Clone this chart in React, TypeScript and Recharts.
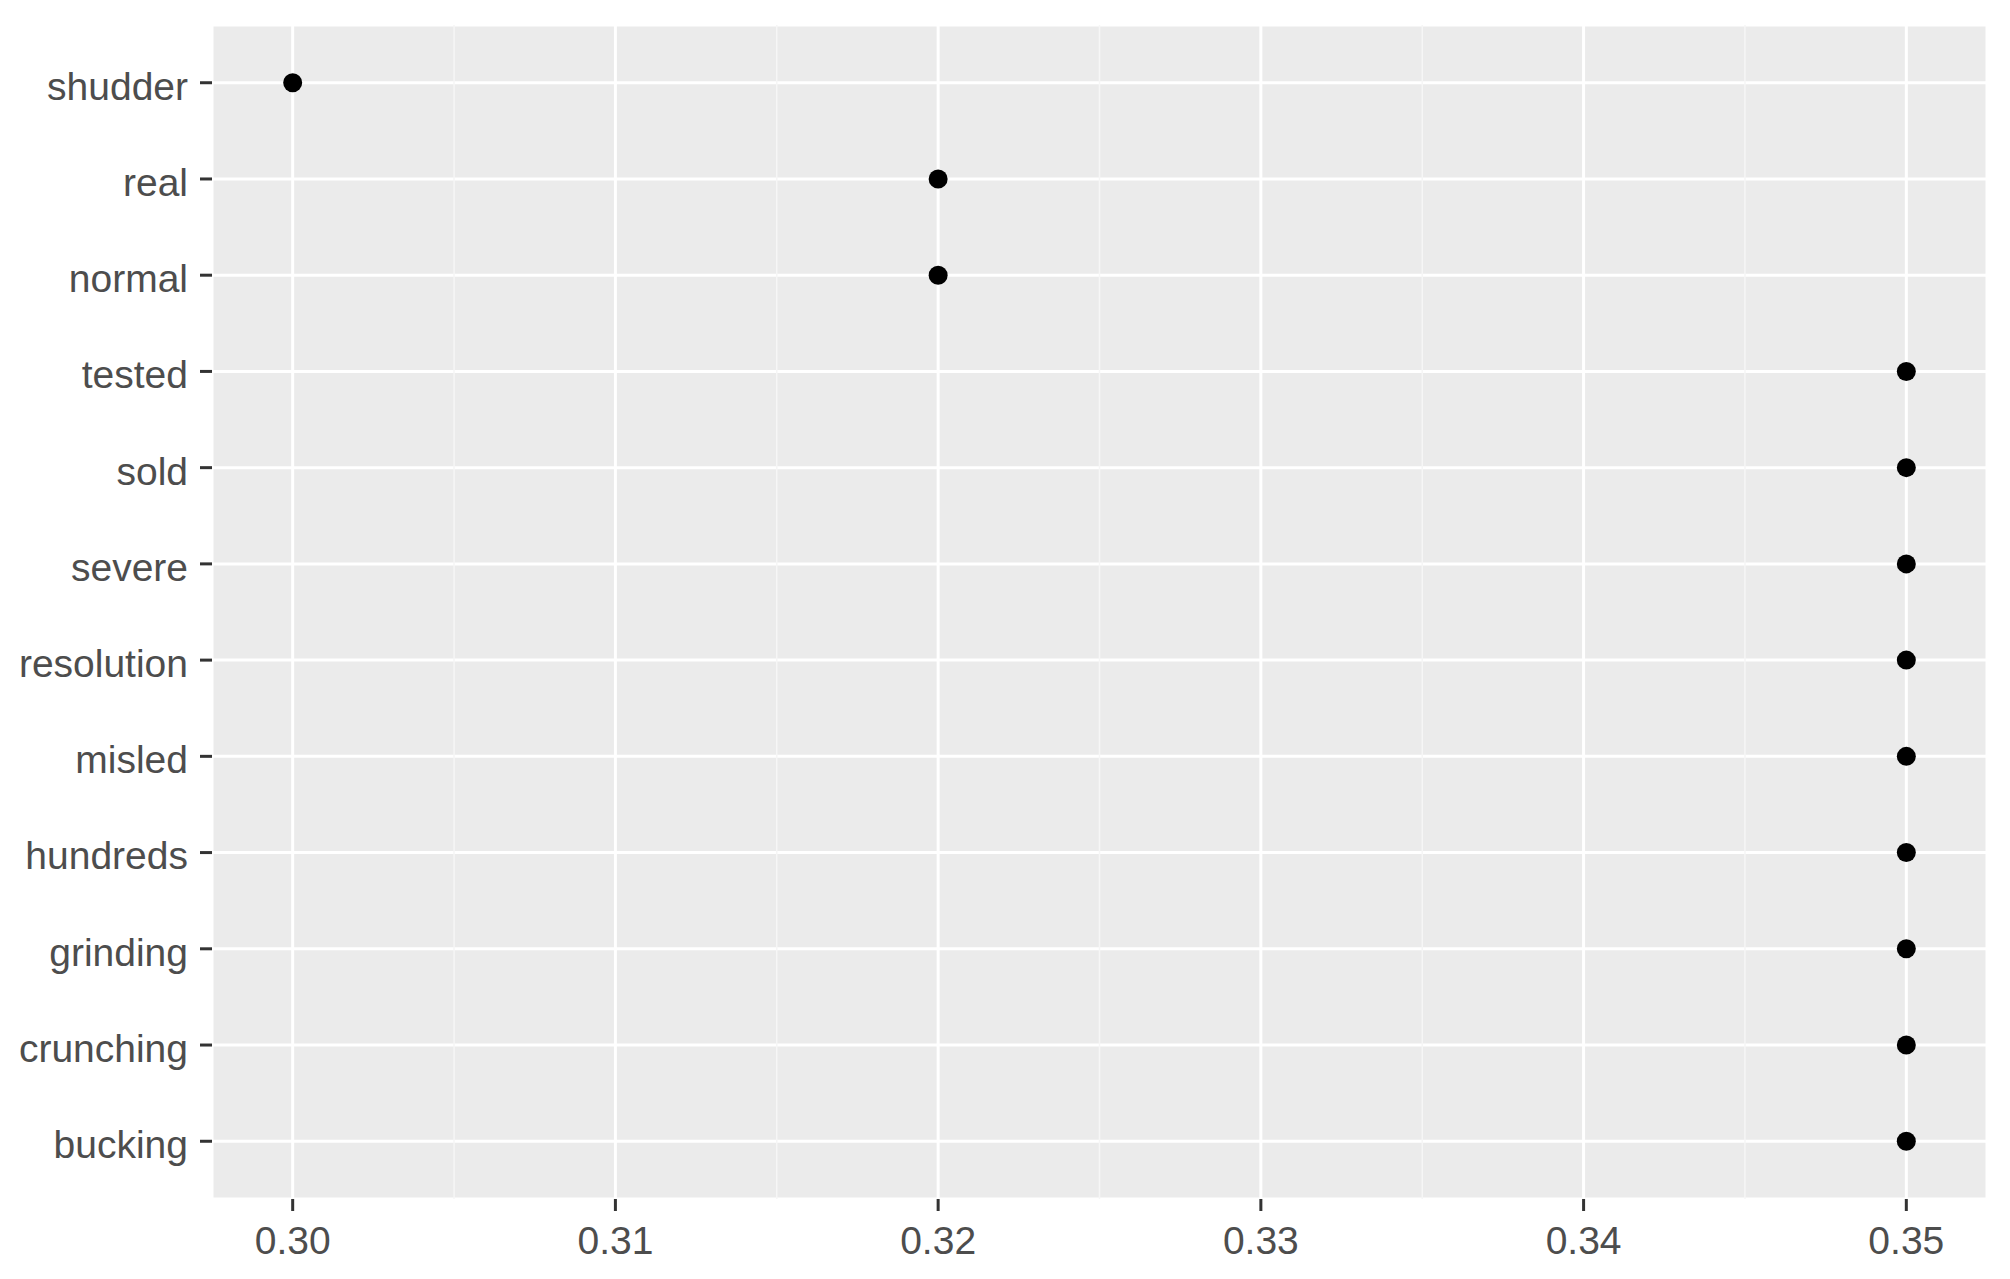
import React from "react";
import {
    ScatterChart,
    Scatter,
    XAxis,
    YAxis,
    CartesianGrid,
    ReferenceLine
} from "recharts";

// words from top to bottom, as in the plot
const words = [
    "shudder",
    "real",
    "normal",
    "tested",
    "sold",
    "severe",
    "resolution",
    "misled",
    "hundreds",
    "grinding",
    "crunching",
    "bucking"
];
const scores = [0.3, 0.32, 0.32, 0.35, 0.35, 0.35, 0.35, 0.35, 0.35, 0.35, 0.35, 0.35];

const xTicks = [0.3, 0.31, 0.32, 0.33, 0.34, 0.35];
const xMinorTicks = [0.305, 0.315, 0.325, 0.335, 0.345];

const data = words.map((word, i) => ({ word, rank: i, score: scores[i] }));
const yTicks = words.map((_, i) => i);

const labelStyle = {
    fill: "#4D4D4D",
    fontSize: 39,
    fontFamily: "'Liberation Sans', Arial, sans-serif"
};

export default function App() {
    return (
        <div style={{ position: "absolute", left: 0, top: 0, width: 2010, height: 1279, background: "#fff" }}>
            <ScatterChart width={2010} height={1279} margin={{ top: 25, right: 23, left: 0, bottom: 0 }}>
                <CartesianGrid fill="#EBEBEB" stroke="#FFFFFF" strokeWidth={3} />
                {xMinorTicks.map((t) => (
                    <ReferenceLine key={t} x={t} stroke="#F6F6F6" strokeWidth={1.5} />
                ))}
                <XAxis
                    type="number"
                    dataKey="score"
                    domain={[0.2975, 0.3525]}
                    ticks={xTicks}
                    allowDataOverflow
                    tickFormatter={(v: number) => v.toFixed(2)}
                    axisLine={false}
                    tickLine={{ stroke: "#333333", strokeWidth: 3 }}
                    tickSize={12}
                    tickMargin={15}
                    tick={labelStyle}
                    height={80}
                    interval={0}
                />
                <YAxis
                    type="number"
                    dataKey="rank"
                    domain={[-0.6, 11.6]}
                    ticks={yTicks}
                    reversed
                    allowDataOverflow
                    tickFormatter={(i: number) => words[i]}
                    axisLine={false}
                    tickLine={{ stroke: "#333333", strokeWidth: 3 }}
                    tickSize={12}
                    tickMargin={12}
                    tick={{ ...labelStyle, dy: 3 }}
                    width={212}
                    interval={0}
                />
                <Scatter
                    data={data}
                    isAnimationActive={false}
                    shape={(p: any) => <circle cx={p.cx} cy={p.cy} r={9.5} fill="#000000" />}
                />
            </ScatterChart>
        </div>
    );
}
